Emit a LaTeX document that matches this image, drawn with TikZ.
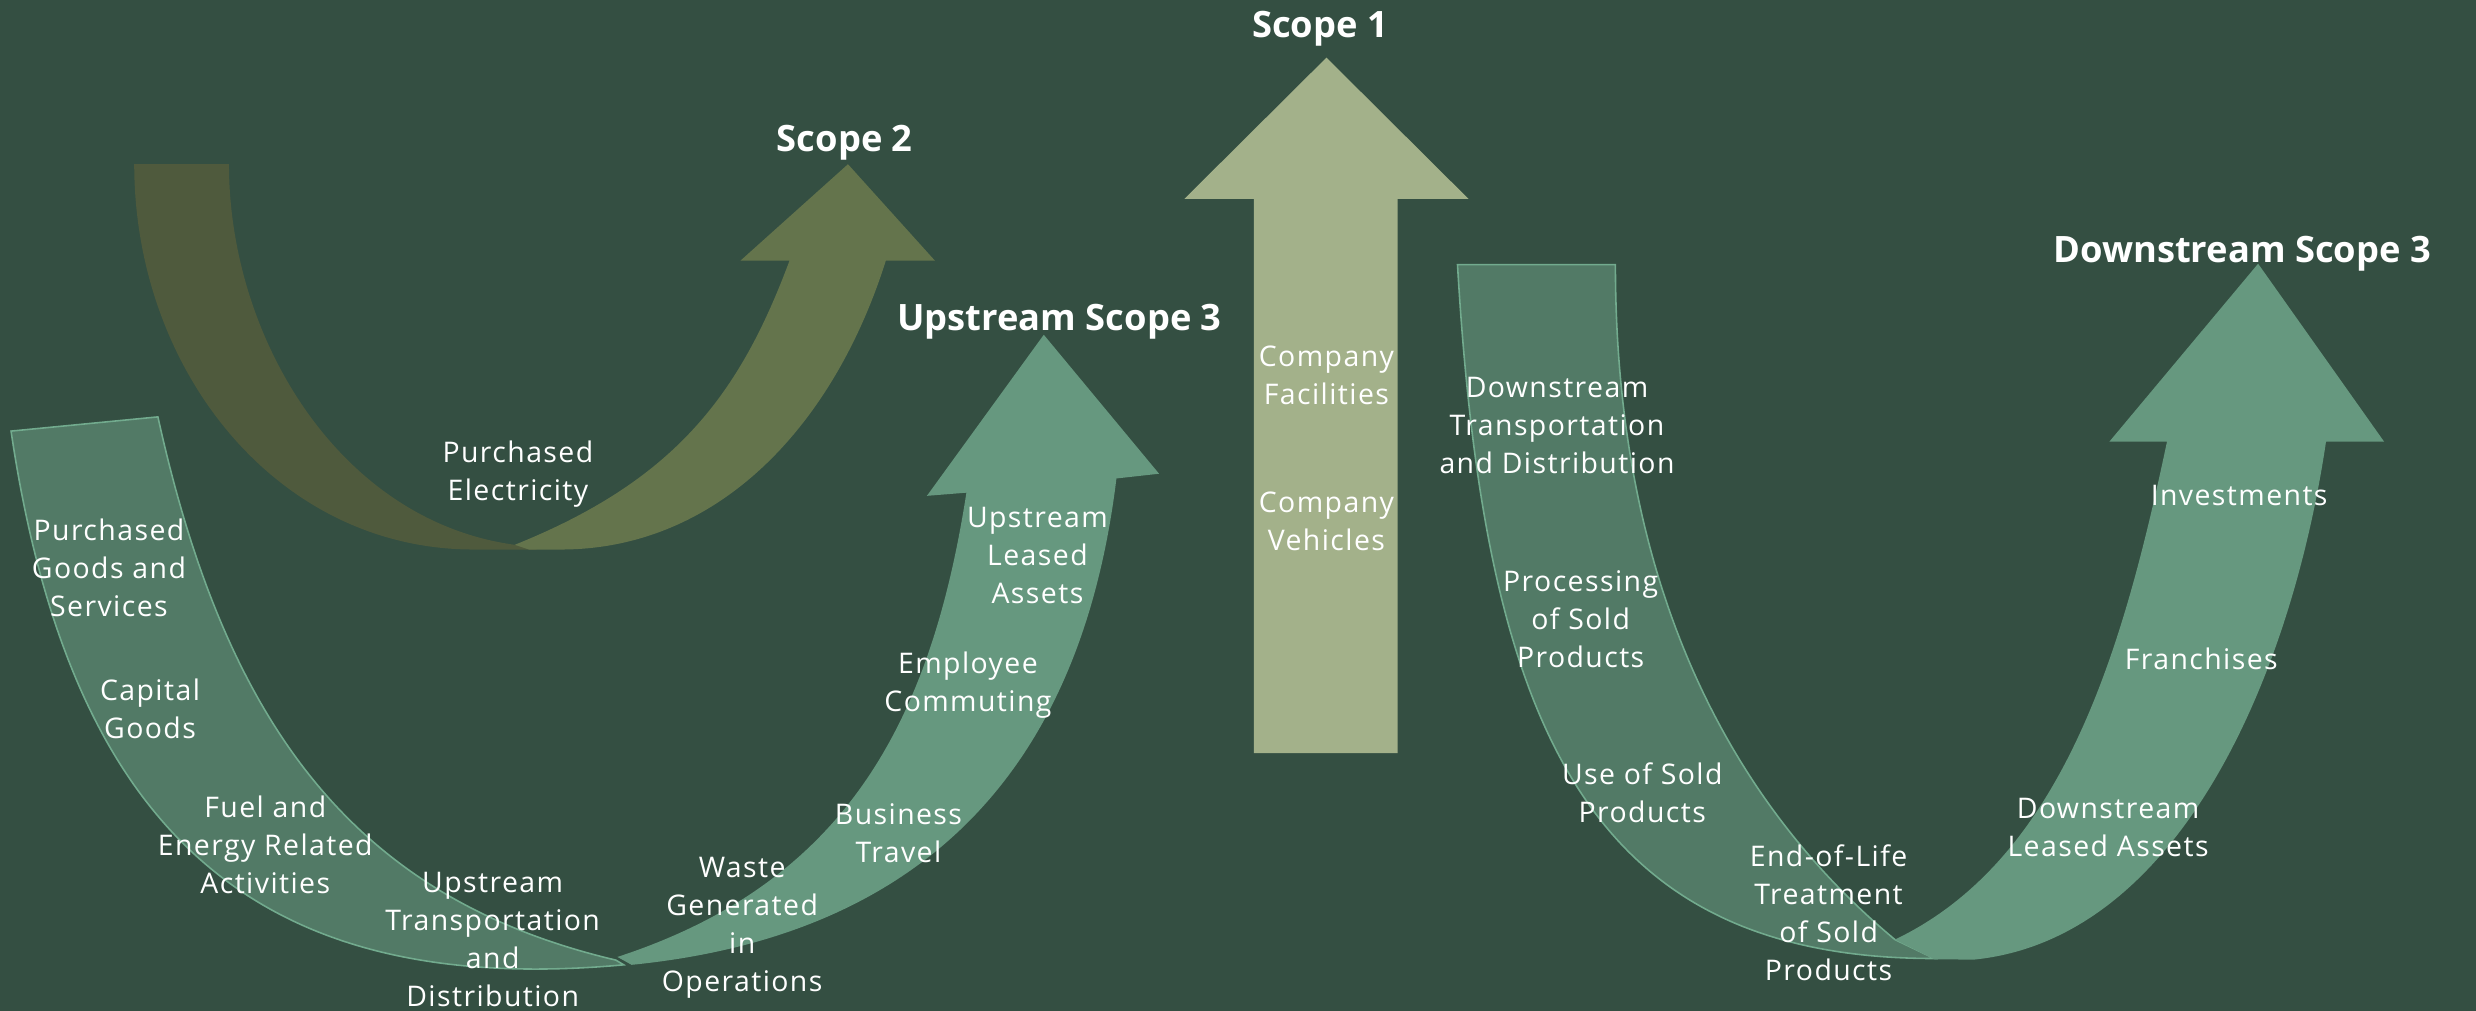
\documentclass[tikz,border=0pt]{standalone}
\usepackage{fontspec}
\setmainfont{Open Sans}
\usepackage{tikz}
\definecolor{bgcol}{HTML}{344F42}
\definecolor{olivedark}{HTML}{4F5A3D}
\definecolor{olivelight}{HTML}{64744C}
\definecolor{sagecol}{HTML}{A3B18A}
\definecolor{greendark}{HTML}{527A66}
\definecolor{greenlight}{HTML}{66987F}
\definecolor{greenline}{HTML}{72AB8E}
\newcommand{\itemfont}{\fontsize{18}{24}\selectfont\addfontfeature{LetterSpace=5}}
\newcommand{\scopefont}{\fontsize{23}{28}\selectfont\bfseries}

\begin{document}
\begin{tikzpicture}[x=1pt,y=-1pt,every node/.style={text=white,align=center,font=\itemfont,inner sep=0pt}]
  \tikzstyle{scopetitle}=[font=\scopefont,anchor=base]
  \tikzstyle{lefthalf}=[fill=greendark,draw=greenline,line width=1pt]
  \tikzstyle{righthalf}=[fill=greenlight]

  \useasboundingbox (0,0) rectangle (1568,640);
  \fill[bgcol] (0,0) rectangle (1568,640);

  \fill[olivedark] (85,104) .. controls (85,234) and (175,348) .. (300,348) -- (340,348) -- (326,345)
  	.. controls (215,330) and (145,214) .. (145,104) -- cycle;
  \fill[olivelight] (326,345) .. controls (428,304) and (468.5,249.6) .. (500,165) -- (469,165) -- (537,104)
  	-- (592,165) -- (561,165) .. controls (528,269.5) and (455,348) .. (355,348) -- (335,348) -- cycle;

  \fill[sagecol] (794,477) -- (794,126) -- (750,126) -- (840,36.5) -- (930,126) -- (885,126) -- (885,477) -- cycle;

  \filldraw[lefthalf] (7,273) -- (100,264) .. controls (143,459) and (224,569) .. (390,608) -- (395,611)
  	.. controls (165,632) and (45,530) .. (7,273) -- cycle;
  \fill[righthalf] (391,606) .. controls (533.5,559.5) and (589,460) .. (612,312) -- (587,314) -- (661,212)
  	-- (734,300) -- (707,303) .. controls (686.6,471) and (600,591) .. (400,611) -- cycle;

  \filldraw[lefthalf] (923,167.6) -- (1023,167.6) .. controls (1023,387.6) and (1107.6,518.2) .. (1200,595)
  	-- (1225,607) .. controls (1005,607) and (940,460) .. (923,167.6) -- cycle;
  \fill[righthalf] (1200,595) .. controls (1308,543.4) and (1345.3,406.8) .. (1372.3,279.7) -- (1335.8,279.7)
  	-- (1430,167) -- (1509.8,279.7) -- (1473,279.7) .. controls (1451,428) and (1380,594.7) .. (1250,607.7)
  	-- (1225,607.5) -- cycle;

  \node[scopetitle]	(S1)	at (836,24)	{Scope 1};
  \node[scopetitle]	(S2)	at (535,96)	{Scope 2};
  \node[scopetitle]	(US3)	at (671,209)	{Upstream Scope 3};
  \node[scopetitle]	(DS3)	at (1420,166)	{Downstream Scope 3};

  \node	(elec)	at (328,300.5)	{Purchased\\Electricity};
  \node	(goods)	at (69,359.5)	{Purchased\\Goods and\\Services};
  \node	(capital)	at (95,449)	{Capital\\Goods};
  \node	(fuel)	at (168,535)	{Fuel and\\Energy Related\\Activities};
  \node	(uptrans)	at (312,595)	{Upstream\\Transportation\\and\\Distribution};
  \node	(waste)	at (470,587.5)	{Waste\\Generated\\in\\Operations};
  \node	(travel)	at (569,527.5)	{Business\\Travel};
  \node	(commute)	at (613,434)	{Employee\\Commuting};
  \node	(upleased)	at (657,352)	{Upstream\\Leased\\Assets};
  \node	(facil)	at (840,237.5)	{Company\\Facilities};
  \node	(vehic)	at (840,330)	{Company\\Vehicles};
  \node	(dntrans)	at (986,269.5)	{Downstream\\Transportation\\and Distribution};
  \node	(process)	at (1001,392)	{Processing\\of Sold\\Products};
  \node	(use)	at (1040,502)	{Use of Sold\\Products};
  \node	(eol)	at (1158,578)	{End-of-Life\\Treatment\\of Sold\\Products};
  \node	(dnleased)	at (1335,524)	{Downstream\\Leased Assets};
  \node	(franch)	at (1394,417)	{Franchises};
  \node	(invest)	at (1418,314)	{Investments};
\end{tikzpicture}
\end{document}
